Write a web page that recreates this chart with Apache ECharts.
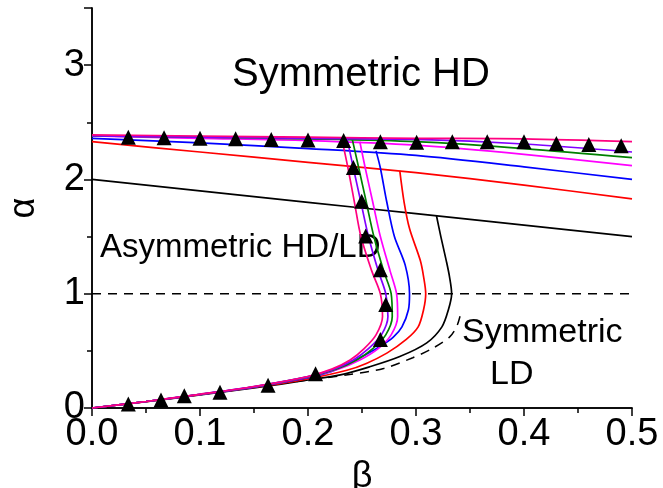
<!DOCTYPE html>
<html><head><meta charset="utf-8">
<script src="https://cdn.jsdelivr.net/npm/echarts@6/dist/echarts.min.js"></script>
<style>html,body{margin:0;padding:0;background:#fff}#c{width:663px;height:488px}</style>
</head><body><div id="c"></div>
<script>
// ---- data (β, α) ----
const xTicks = [0, 0.1, 0.2, 0.3, 0.4, 0.5];
const yTicks = [0, 1, 2, 3];
const hdBlack   = [[0,2.0],[0.1,1.9],[0.2,1.8],[0.3,1.7],[0.4,1.6],[0.5,1.5]];
const hdRed     = [[0,2.33],[0.1,2.24],[0.2,2.15],[0.3,2.06],[0.4,1.95],[0.5,1.83]];
const hdBlue    = [[0,2.36],[0.1,2.32],[0.2,2.27],[0.3,2.21],[0.4,2.11],[0.5,2.0]];
const hdMagenta = [[0,2.38],[0.1,2.36],[0.2,2.34],[0.3,2.3],[0.4,2.22],[0.5,2.12]];
const hdGreen   = [[0,2.38],[0.1,2.37],[0.2,2.355],[0.3,2.33],[0.4,2.27],[0.5,2.19]];
const hdPurple  = [[0,2.38],[0.1,2.37],[0.2,2.36],[0.3,2.35],[0.4,2.31],[0.5,2.24]];
const hdPink    = [[0,2.39],[0.1,2.38],[0.2,2.37],[0.3,2.36],[0.4,2.355],[0.5,2.33]];

const ldBlack   = [[0,0],[0.05,0.055],[0.1,0.115],[0.15,0.175],[0.2,0.245],[0.23,0.29],[0.257,0.36],[0.285,0.45],[0.31,0.57],[0.324,0.71],[0.33,0.86],[0.333,1.0],[0.331,1.15],[0.328,1.29],[0.323,1.5],[0.319,1.68]];
const ldRed     = [[0,0],[0.05,0.056],[0.1,0.117],[0.15,0.18],[0.2,0.255],[0.236,0.33],[0.254,0.39],[0.273,0.48],[0.291,0.6],[0.302,0.71],[0.307,0.86],[0.309,1.0],[0.307,1.15],[0.304,1.29],[0.294,1.57],[0.289,1.8],[0.285,2.075]];
const ldBlue    = [[0,0],[0.05,0.057],[0.1,0.118],[0.15,0.183],[0.2,0.265],[0.222,0.32],[0.236,0.38],[0.25,0.45],[0.267,0.54],[0.279,0.62],[0.287,0.71],[0.293,0.86],[0.294,1.0],[0.29,1.25],[0.28,1.5],[0.273,1.8],[0.267,2.1],[0.263,2.25]];
const ldMagenta = [[0,0],[0.05,0.057],[0.1,0.119],[0.15,0.185],[0.2,0.27],[0.228,0.34],[0.248,0.42],[0.265,0.52],[0.277,0.64],[0.283,0.8],[0.282,1.0],[0.276,1.2],[0.267,1.5],[0.26,1.8],[0.253,2.1],[0.248,2.33]];
const ldGreen   = [[0,0],[0.05,0.057],[0.1,0.119],[0.15,0.186],[0.2,0.272],[0.226,0.34],[0.245,0.42],[0.26,0.52],[0.272,0.64],[0.278,0.8],[0.277,1.0],[0.27,1.2],[0.261,1.5],[0.254,1.8],[0.247,2.1],[0.241,2.35]];
const ldPurple  = [[0,0],[0.05,0.057],[0.1,0.12],[0.15,0.187],[0.2,0.274],[0.224,0.34],[0.242,0.42],[0.256,0.52],[0.268,0.64],[0.274,0.8],[0.272,1.0],[0.265,1.2],[0.256,1.5],[0.249,1.8],[0.242,2.1],[0.236,2.365]];
const ldPink    = [[0,0],[0.05,0.057],[0.1,0.12],[0.15,0.188],[0.2,0.276],[0.222,0.34],[0.239,0.42],[0.252,0.52],[0.263,0.64],[0.269,0.8],[0.267,1.0],[0.259,1.2],[0.249,1.5],[0.243,1.8],[0.237,2.1],[0.231,2.37]];
const ldDashed  = [[0.16,0.2],[0.2,0.245],[0.24,0.295],[0.27,0.345],[0.297,0.44],[0.315,0.52],[0.331,0.62],[0.338,0.72],[0.342,0.85]];
const alphaOne  = [[0,1],[0.5,1]];

const triUpper  = [[0.0336,2.37],[0.0667,2.365],[0.1,2.36],[0.133,2.355],[0.166,2.35],[0.2,2.345],[0.233,2.34],[0.267,2.33],[0.3006,2.325],[0.3336,2.33],[0.366,2.33],[0.4,2.33],[0.43,2.315],[0.46,2.305],[0.49,2.295]];
const triBranch = [[0.242,2.105],[0.2497,1.81],[0.2534,1.505],[0.267,1.21],[0.272,0.905],[0.267,0.6]];
const triLower  = [[0.0336,0.035],[0.0639,0.07],[0.0855,0.108],[0.1185,0.137],[0.163,0.2],[0.207,0.3]];

const FONT = 'Liberation Sans, Arial, sans-serif';
const chart = echarts.init(document.getElementById('c'), null, {renderer:'canvas'});

function line(data, color, extra) {
  return Object.assign({type:'line', data, symbol:'none', smooth:0.3, silent:true,
    lineStyle:{color, width:1.7}, z:2}, extra||{});
}
const axisLineStyle = {color:'#000', width:1.5};

const option = {
  animation:false,
  backgroundColor:'#fff',
  grid:{left:92, right:31, top:8, bottom:80, containLabel:false, outerBoundsMode:'none'},
  xAxis:[{
    type:'value', min:0, max:0.5, interval:0.1, position:'bottom',
    axisLine:{show:true, lineStyle:axisLineStyle},
    axisTick:{show:true, inside:false, length:8, lineStyle:axisLineStyle},
    minorTick:{show:true, splitNumber:2, length:5, lineStyle:axisLineStyle},
    splitLine:{show:false},
    axisLabel:{fontSize:38, fontFamily:FONT, color:'#000', margin:8,
      formatter:v=>v.toFixed(1)},
    name:'β', nameLocation:'middle', nameGap:33,
    nameTextStyle:{fontSize:36, fontFamily:FONT, color:'#000'}
  },{
    type:'value', min:0, max:0.5, interval:0.1, position:'top',
    axisLine:{show:true, lineStyle:axisLineStyle},
    axisTick:{show:true, inside:true, length:8, lineStyle:axisLineStyle},
    minorTick:{show:true, splitNumber:2, length:5, lineStyle:axisLineStyle},
    splitLine:{show:false}, axisLabel:{show:false}
  }],
  yAxis:[{
    type:'value', min:0, max:3.5, interval:1, position:'left',
    axisLine:{show:true, lineStyle:axisLineStyle},
    axisTick:{show:true, inside:false, length:8, lineStyle:axisLineStyle},
    minorTick:{show:true, splitNumber:2, length:5, lineStyle:axisLineStyle},
    splitLine:{show:false},
    axisLabel:{fontSize:38, fontFamily:FONT, color:'#000', margin:7, showMaxLabel:false,
      formatter:v=> (yTicks.indexOf(v)>=0 ? String(v) : '')},
    name:'α', nameLocation:'middle', nameGap:50, nameRotate:90,
    nameTextStyle:{fontSize:36, fontFamily:FONT, color:'#000'}
  },{
    type:'value', min:0, max:3.5, interval:1, position:'right',
    axisLine:{show:true, lineStyle:axisLineStyle},
    axisTick:{show:true, inside:true, length:8, lineStyle:axisLineStyle},
    minorTick:{show:true, splitNumber:2, length:5, lineStyle:axisLineStyle},
    splitLine:{show:false}, axisLabel:{show:false}
  }],
  series:[
    line(alphaOne, '#000', {lineStyle:{color:'#000', width:1.5, type:[9,7]}, smooth:false}),
    line(ldDashed, '#000', {lineStyle:{color:'#000', width:1.5, type:[9,7]}}),
    line(hdBlack, '#000'), line(ldBlack, '#000'),
    line(hdRed, '#ff0000'), line(ldRed, '#ff0000'),
    line(hdBlue, '#0000ff'), line(ldBlue, '#0000ff'),
    line(hdMagenta, '#ff00ff'), line(ldMagenta, '#ff00ff'),
    line(hdGreen, '#008000'), line(ldGreen, '#008000'),
    line(hdPurple, '#8000ff'), line(ldPurple, '#8000ff'),
    line(hdPink, '#ff0080'), line(ldPink, '#ff0080'),
    {type:'scatter', data:triUpper.concat(triBranch, triLower), symbol:'triangle', symbolSize:15,
     itemStyle:{color:'#000', opacity:1}, z:5, silent:true}
  ],
  graphic:[
    {type:'text', x:232, y:75, style:{text:'Symmetric HD', font:'40px '+FONT, fill:'#000', verticalAlign:'middle'}},
    {type:'text', x:100, y:248, style:{text:'Asymmetric HD/LD', font:'33px '+FONT, fill:'#000', verticalAlign:'middle'}},
    {type:'text', x:462, y:333, style:{text:'Symmetric', font:'34px '+FONT, fill:'#000', verticalAlign:'middle'}},
    {type:'text', x:490, y:375, style:{text:'LD', font:'34px '+FONT, fill:'#000', verticalAlign:'middle'}}
  ]
};
chart.setOption(option);
</script></body></html>
